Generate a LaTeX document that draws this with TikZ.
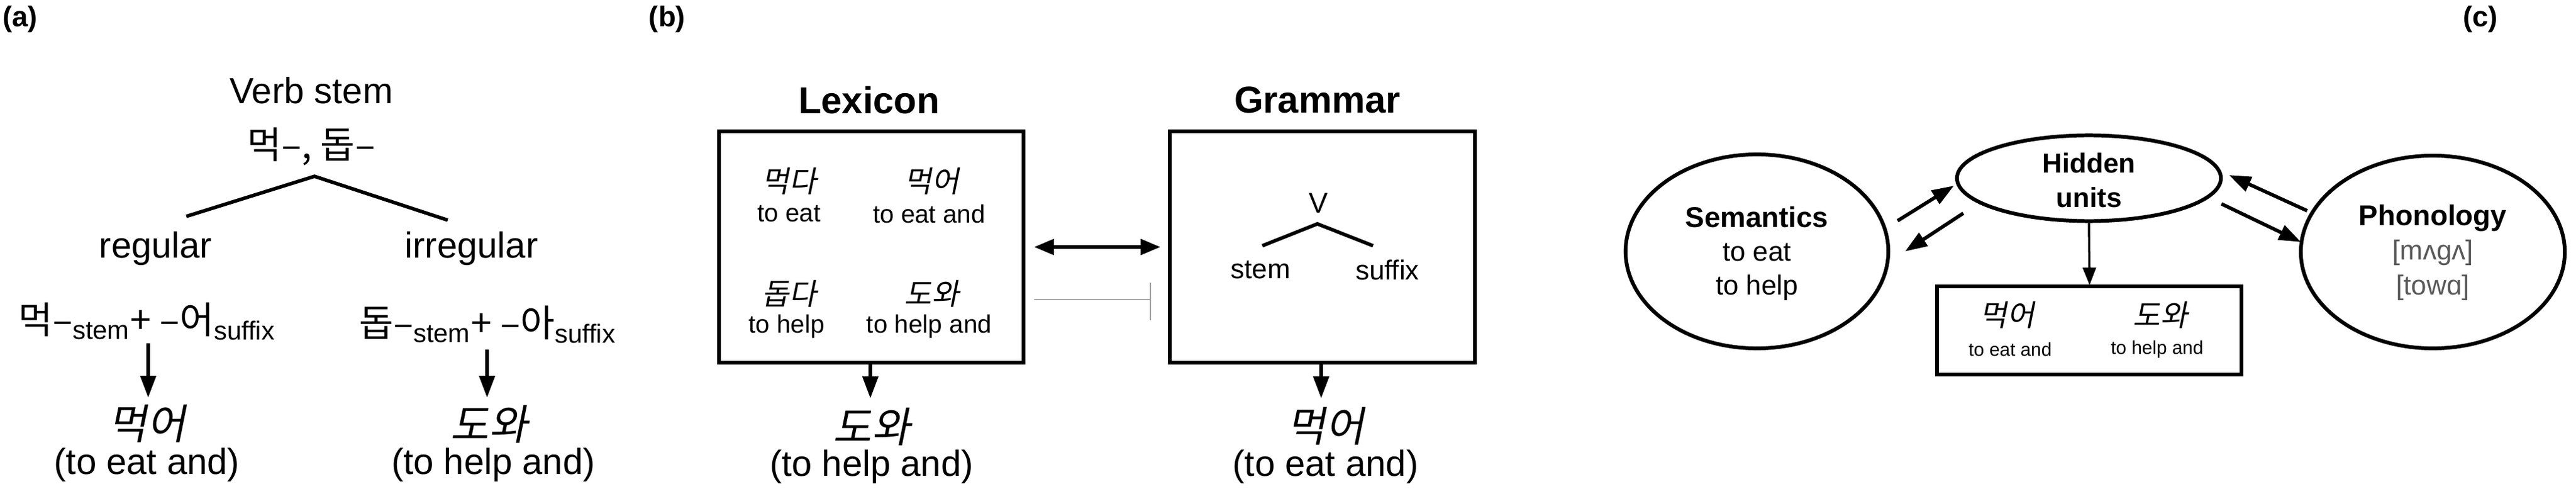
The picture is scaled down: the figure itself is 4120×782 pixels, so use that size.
\documentclass[tikz,border=0pt]{standalone}
\usepackage{fontspec}
\setmainfont{Liberation Sans}
\newfontfamily\kr{Noto Sans CJK KR}
\newfontfamily\kri[FakeSlant=0.2]{Noto Sans CJK KR}
\usetikzlibrary{arrows.meta,shapes.geometric}
\tikzset{
  fs/.style={font=\fontsize{#1}{#1}\selectfont},
  bfs/.style={font=\fontsize{#1}{#1}\selectfont\bfseries},
  line/.style={line width=1.6pt},
  arr/.style={line width=1.6pt,-{Triangle[length=10pt,width=7pt]}},
  darr/.style={line width=1.6pt,{Triangle[length=9pt,width=7pt]}-{Triangle[length=9pt,width=7pt]}},
  ell/.style={draw,line width=1.7pt,ellipse,inner sep=0pt},
  gl/.style={inner sep=0pt,align=center},
}
\begin{document}
\begin{tikzpicture}[x=0.01cm,y=-0.01cm]
\useasboundingbox (0,0) rectangle (4120,782);
% ---------- (a)
\node[gl,bfs=13] (la) at (32,31) {(a)};
\node[gl,fs=16.5] (vs) at (498,145) {Verb stem};
\node[gl,fs=17] (vk) at (498,234) {\kr 먹–, 돕–};
\coordinate (ap) at (503,282);
\coordinate (al) at (298,346);
\coordinate (ar) at (716,352);
\draw[line] (al) -- (ap) -- (ar);
\node[gl,fs=16.5] (reg) at (249,397) {regular};
\node[gl,fs=16.5] (irr) at (754,397) {irregular};
\node[gl,fs=17] (f1) at (235,514) {\kr 먹–\textsubscript{\rmfamily stem}+ –어\textsubscript{\rmfamily suffix}};
\node[gl,fs=17] (f2) at (780,519) {\kr 돕–\textsubscript{\rmfamily stem}+ –아\textsubscript{\rmfamily suffix}};
\node[gl,fs=19] (o1) at (235,678) {\kri 먹어};
\node[gl,fs=19] (o2) at (782,678) {\kri 도와};
\node[gl,fs=16.5] (t1) at (235,743) {(to eat and)};
\node[gl,fs=16.5] (t2) at (789,743) {(to help and)};
\coordinate (a1s) at (237,549); \coordinate (a1e) at (237,636);
\coordinate (a2s) at (779,559); \coordinate (a2e) at (779,636);
\draw[arr] (a1s) -- (a1e);
\draw[arr] (a2s) -- (a2e);
% ---------- (b)
\node[gl,bfs=13] (lb) at (1067,31) {(b)};
\node[gl,bfs=17] (lex) at (1390,160) {Lexicon};
\node[gl,bfs=17] (gra) at (2107,160) {Grammar};
\draw[line width=1.9pt] (1150,210) rectangle (1637,580);
\coordinate (lexb) at (1392,580);
\draw[line width=1.9pt] (1871,210) rectangle (2359,580);
\coordinate (grab) at (2113,580);
\node[gl,fs=13.5] (k1) at (1262,290) {\kri 먹다};
\node[gl,fs=11.5] (e1) at (1262,342) {to eat};
\node[gl,fs=13.5] (k2) at (1490,290) {\kri 먹어};
\node[gl,fs=11.5] (e2) at (1486,342) {to eat and};
\node[gl,fs=13.5] (k3) at (1262,470) {\kri 돕다};
\node[gl,fs=11.5] (e3) at (1258,522) {to help};
\node[gl,fs=13.5] (k4) at (1490,470) {\kri 도와};
\node[gl,fs=11.5] (e4) at (1486,522) {to help and};
\coordinate (dl) at (1654,395); \coordinate (dr) at (1856,395);
\draw[darr] (dl) -- (dr);
\coordinate (il) at (1654,479); \coordinate (ir) at (1840,479);
\coordinate (it) at (1840,452); \coordinate (ib) at (1840,512);
\draw[gray!70,line width=0.5pt] (il) -- (ir);
\draw[gray!70,line width=0.5pt] (it) -- (ib);
\node[gl,fs=13] (v) at (2109,325) {V};
\coordinate (gp) at (2107,358); \coordinate (gL) at (2019,393); \coordinate (gR) at (2196,393);
\draw[line] (gL) -- (gp) -- (gR);
\node[gl,fs=12.5] (st) at (2016,432) {stem};
\node[gl,fs=12.5] (sf) at (2219,432) {suffix};
\coordinate (lexe) at (1392,637); \coordinate (grae) at (2113,637);
\draw[arr] (lexb) -- (lexe);
\draw[arr] (grab) -- (grae);
\node[gl,fs=19] (bo1) at (1394,682) {\kri 도와};
\node[gl,fs=16.5] (bt1) at (1394,746) {(to help and)};
\node[gl,fs=19] (bo2) at (2120,682) {\kri 먹어};
\node[gl,fs=16.5] (bt2) at (2120,746) {(to eat and)};
% ---------- (c)
\node[gl,bfs=13] (lc) at (3967,31) {(c)};
\node[ell,minimum width=4.2cm,minimum height=3.1cm] (sem) at (2810,402) {};
\node[ell,minimum width=4.22cm,minimum height=1.37cm] (hid) at (3341,285) {};
\node[ell,minimum width=4.22cm,minimum height=3.08cm] (pho) at (3891,403) {};
\node[gl,bfs=13] at (2810,347) {Semantics};
\node[gl,fs=12.5] at (2810,404) {to eat};
\node[gl,fs=12.5] at (2810,460) {to help};
\node[gl,bfs=12.5] at (3341,261) {Hidden};
\node[gl,bfs=12.5] at (3341,316) {units};
\node[gl,bfs=13] at (3891,349) {Phonology};
\node[gl,fs=12.5,text=black!65] at (3891,404) {[mʌgʌ]};
\node[gl,fs=12.5,text=black!65] at (3891,460) {[towɑ]};
\draw[line width=1.9pt] (3098,458) rectangle (3585,599);
\coordinate (boxt) at (3342,456);
\node[gl,fs=13.5] at (3210,504) {\kri 먹어};
\node[gl,fs=13.5] at (3455,504) {\kri 도와};
\node[gl,fs=8.5] at (3215,559) {to eat and};
\node[gl,fs=8.5] at (3450,559) {to help and};
\draw[line width=1pt,-{Triangle[length=8pt,width=6pt]}] (hid.south) -- (boxt);
\coordinate (c1) at (3035,353); \coordinate (c2) at (3125,297);
\coordinate (c3) at (3140,341); \coordinate (c4) at (3047,402);
\coordinate (c5) at (3690,337); \coordinate (c6) at (3565,280);
\coordinate (c7) at (3553,326); \coordinate (c8) at (3680,387);
\draw[arr] (c1) -- (c2);
\draw[arr] (c3) -- (c4);
\draw[arr] (c5) -- (c6);
\draw[arr] (c7) -- (c8);
\end{tikzpicture}
\end{document}
